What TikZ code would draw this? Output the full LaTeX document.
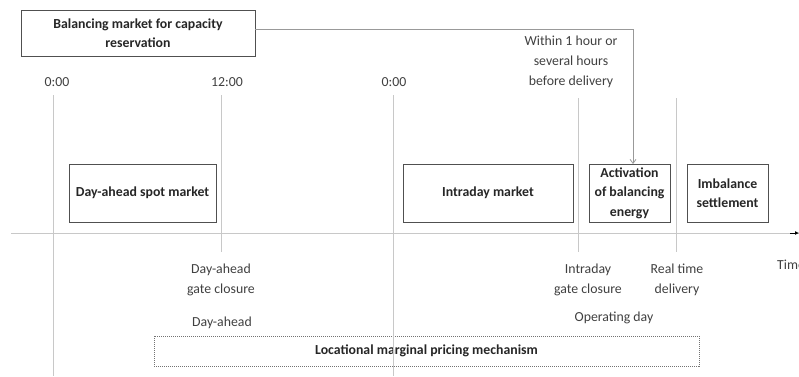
\documentclass[tikz,border=0pt]{standalone}
\usepackage{fontspec}
\setmainfont{Carlito}
\usetikzlibrary{arrows.meta}
\definecolor{gridgray}{HTML}{C8C8C8}
\definecolor{boxgray}{HTML}{505050}
\definecolor{labelgray}{HTML}{404040}
\begin{document}
\begin{tikzpicture}[x=1pt,y=-1pt,
  every node/.style={font=\fontsize{13.8}{20}\selectfont},
  mbox/.style={draw=boxgray, line width=0.9pt, align=center, inner sep=0pt, font=\fontsize{13.8}{19.5}\selectfont\bfseries, text=black!85},
  lbl/.style={align=center, text=labelgray, inner sep=0pt},
  grid/.style={draw=gridgray, line width=0.8pt},
  link/.style={draw=gray!80, line width=0.8pt}
]
\useasboundingbox (0,0) rectangle (799,376);

% markets
\node[mbox, minimum width=234pt, minimum height=46pt] (bal) at (138,33) {Balancing market for capacity\\reservation};
\node[mbox, minimum width=147pt, minimum height=58pt] (da) at (142.5,193) {Day-ahead spot market};
\node[mbox, minimum width=170pt, minimum height=58pt] (id) at (488,193) {Intraday market};
\node[mbox, minimum width=81pt, minimum height=58pt] (act) at (629.5,193) {Activation\\of balancing\\energy};
\node[mbox, minimum width=81pt, minimum height=58pt] (imb) at (727.5,193) {Imbalance\\settlement};
\node[mbox, draw=boxgray!80, dash pattern=on 1pt off 1pt, line width=0.8pt, minimum width=545pt, minimum height=30pt] (lmp) at (426.5,351) {Locational marginal pricing mechanism};

% time axis
\coordinate (t0) at (11,233);
\coordinate (t1) at (799,233);
\draw[grid] (t0) -- (t1);
\draw[-{Latex[length=4pt,width=4pt]}, black, line width=0.8pt] (790,233) -- (t1);

% instants on the axis
\coordinate (a1) at (53,95);   \coordinate (b1) at (53,376);
\coordinate (a2) at (221,95);  \coordinate (b2) at (221,252);
\coordinate (a3) at (393,95);  \coordinate (b3) at (393,376);
\coordinate (a4) at (578,98);  \coordinate (b4) at (578,252);
\coordinate (a5) at (676,98);  \coordinate (b5) at (676,252);
\foreach \i in {1,...,5} \draw[grid] (a\i) -- (b\i);

% labels
\node[lbl] (h0) at (57,82) {0:00};
\node[lbl] (h12) at (227,82) {12:00};
\node[lbl] (h24) at (394,82) {0:00};
\node[lbl] (within) at (571,62) {Within 1 hour or\\several hours\\before delivery};
\node[lbl] (dagc) at (221,280) {Day-ahead\\gate closure};
\node[lbl] (daday) at (222,323) {Day-ahead};
\node[lbl] (idgc) at (588,280) {Intraday\\gate closure};
\node[lbl] (rtd) at (677,280) {Real time\\delivery};
\node[lbl] (opday) at (614,318) {Operating day};
\node[lbl, anchor=west] (time) at (777,265) {Time};

% reservation link to activation
\draw[link, -{Straight Barb[length=4pt,width=6pt]}] (bal.east |- 0,29) -- (633,29) -- (633,164);
\end{tikzpicture}
\end{document}
